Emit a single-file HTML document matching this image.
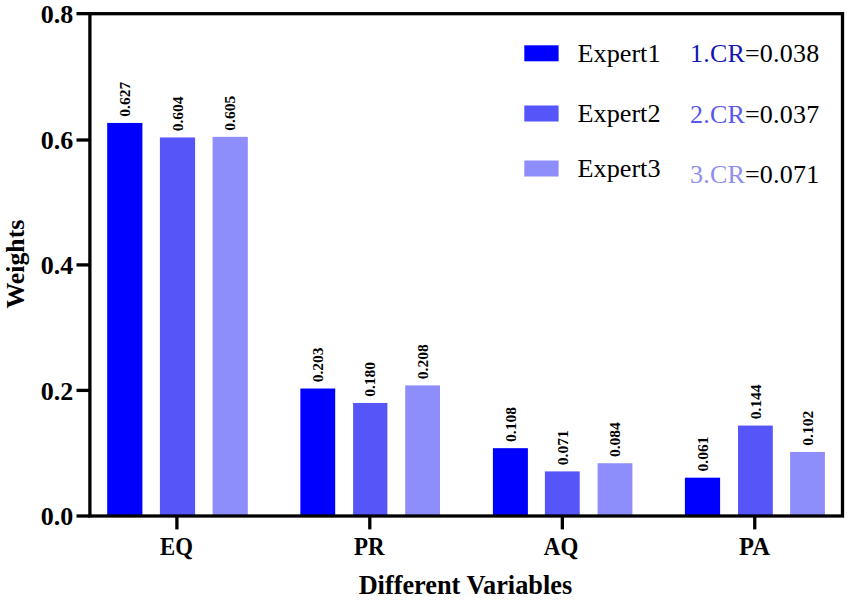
<!DOCTYPE html>
<html><head><meta charset="utf-8"><style>
html,body{margin:0;padding:0;background:#fff;}
svg{display:block;}
text{font-family:"Liberation Serif",serif;fill:#000;}
.lb{font-size:15.5px;font-weight:bold;}
.yt{font-size:26px;font-weight:bold;text-anchor:end;}
.xt{font-size:25px;font-weight:bold;text-anchor:middle;}
.tit{font-size:26.3px;font-weight:bold;text-anchor:middle;}
.lg{font-size:26.2px;}
</style></head><body>
<svg width="850" height="601" viewBox="0 0 850 601">
<rect width="850" height="601" fill="#fff"/>
<rect x="107.20" y="122.94" width="35.2" height="393.06" fill="#0000ff"/>
<text class="lb" transform="translate(130.00,116.74) rotate(-90)">0.627</text>
<rect x="159.90" y="137.47" width="35.2" height="378.53" fill="#5555f8"/>
<text class="lb" transform="translate(182.70,131.27) rotate(-90)">0.604</text>
<rect x="212.60" y="136.84" width="35.2" height="379.16" fill="#8d8dfc"/>
<text class="lb" transform="translate(235.40,130.64) rotate(-90)">0.605</text>
<rect x="300.35" y="388.52" width="34.85" height="127.48" fill="#0000ff"/>
<text class="lb" transform="translate(322.98,382.32) rotate(-90)">0.203</text>
<rect x="353.10" y="402.96" width="34.3" height="113.04" fill="#5555f8"/>
<text class="lb" transform="translate(375.45,396.76) rotate(-90)">0.180</text>
<rect x="405.20" y="385.38" width="34.8" height="130.62" fill="#8d8dfc"/>
<text class="lb" transform="translate(427.80,379.18) rotate(-90)">0.208</text>
<rect x="492.90" y="448.18" width="35.0" height="67.82" fill="#0000ff"/>
<text class="lb" transform="translate(515.60,441.98) rotate(-90)">0.108</text>
<rect x="544.90" y="471.41" width="34.8" height="44.59" fill="#5555f8"/>
<text class="lb" transform="translate(567.50,465.21) rotate(-90)">0.071</text>
<rect x="597.60" y="463.25" width="34.8" height="52.75" fill="#8d8dfc"/>
<text class="lb" transform="translate(620.20,457.05) rotate(-90)">0.084</text>
<rect x="684.90" y="477.69" width="35.2" height="38.31" fill="#0000ff"/>
<text class="lb" transform="translate(707.70,471.49) rotate(-90)">0.061</text>
<rect x="738.00" y="425.57" width="34.8" height="90.43" fill="#5555f8"/>
<text class="lb" transform="translate(760.60,419.37) rotate(-90)">0.144</text>
<rect x="790.10" y="451.94" width="34.8" height="64.06" fill="#8d8dfc"/>
<text class="lb" transform="translate(812.70,445.74) rotate(-90)">0.102</text>
<rect x="89.9" y="13.7" width="752.60" height="502.30" fill="none" stroke="#000" stroke-width="3.3"/>
<line x1="76.5" y1="516.00" x2="89.9" y2="516.00" stroke="#000" stroke-width="3.3"/>
<text class="yt" x="73.3" y="525.45">0.0</text>
<line x1="76.5" y1="390.40" x2="89.9" y2="390.40" stroke="#000" stroke-width="3.3"/>
<text class="yt" x="73.3" y="399.85">0.2</text>
<line x1="76.5" y1="264.90" x2="89.9" y2="264.90" stroke="#000" stroke-width="3.3"/>
<text class="yt" x="73.3" y="274.35">0.4</text>
<line x1="76.5" y1="140.00" x2="89.9" y2="140.00" stroke="#000" stroke-width="3.3"/>
<text class="yt" x="73.3" y="149.45">0.6</text>
<line x1="76.5" y1="13.65" x2="89.9" y2="13.65" stroke="#000" stroke-width="3.3"/>
<text class="yt" x="73.3" y="23.10">0.8</text>
<line x1="176.90" y1="516.0" x2="176.90" y2="529.4" stroke="#000" stroke-width="3.3"/>
<text class="xt" transform="translate(176.5,555.0) scale(0.91,1)">EQ</text>
<line x1="369.80" y1="516.0" x2="369.80" y2="529.4" stroke="#000" stroke-width="3.3"/>
<text class="xt" transform="translate(369.4,555.0) scale(0.918,1)">PR</text>
<line x1="562.35" y1="516.0" x2="562.35" y2="529.4" stroke="#000" stroke-width="3.3"/>
<text class="xt" transform="translate(561.1,555.0) scale(0.92,1)">AQ</text>
<line x1="754.75" y1="516.0" x2="754.75" y2="529.4" stroke="#000" stroke-width="3.3"/>
<text class="xt" transform="translate(754.45,555.0) scale(0.984,1)">PA</text>
<text class="tit" x="465.4" y="594.0">Different Variables</text>
<text class="tit" transform="translate(24.4,264.1) rotate(-90)" style="font-size:25.8px">Weights</text>
<rect x="524.3" y="45.3" width="34.3" height="16" fill="#0000ff"/>
<text class="lg" x="577.6" y="61.6">Expert1</text>
<text class="lg" x="690.0" y="61.7" style="font-size:26.0px;letter-spacing:0.2px"><tspan fill="#1414b4">1.CR</tspan>=0.038</text>
<rect x="524.3" y="105.5" width="34.3" height="16" fill="#5555f8"/>
<text class="lg" x="577.6" y="121.7">Expert2</text>
<text class="lg" x="690.0" y="122.9" style="font-size:26.0px;letter-spacing:0.2px"><tspan fill="#5858ee">2.CR</tspan>=0.037</text>
<rect x="524.3" y="160.5" width="34.3" height="16" fill="#8d8dfc"/>
<text class="lg" x="577.6" y="176.7">Expert3</text>
<text class="lg" x="690.0" y="183.3" style="font-size:26.0px;letter-spacing:0.2px"><tspan fill="#8e8ef2">3.CR</tspan>=0.071</text>
</svg>
</body></html>
